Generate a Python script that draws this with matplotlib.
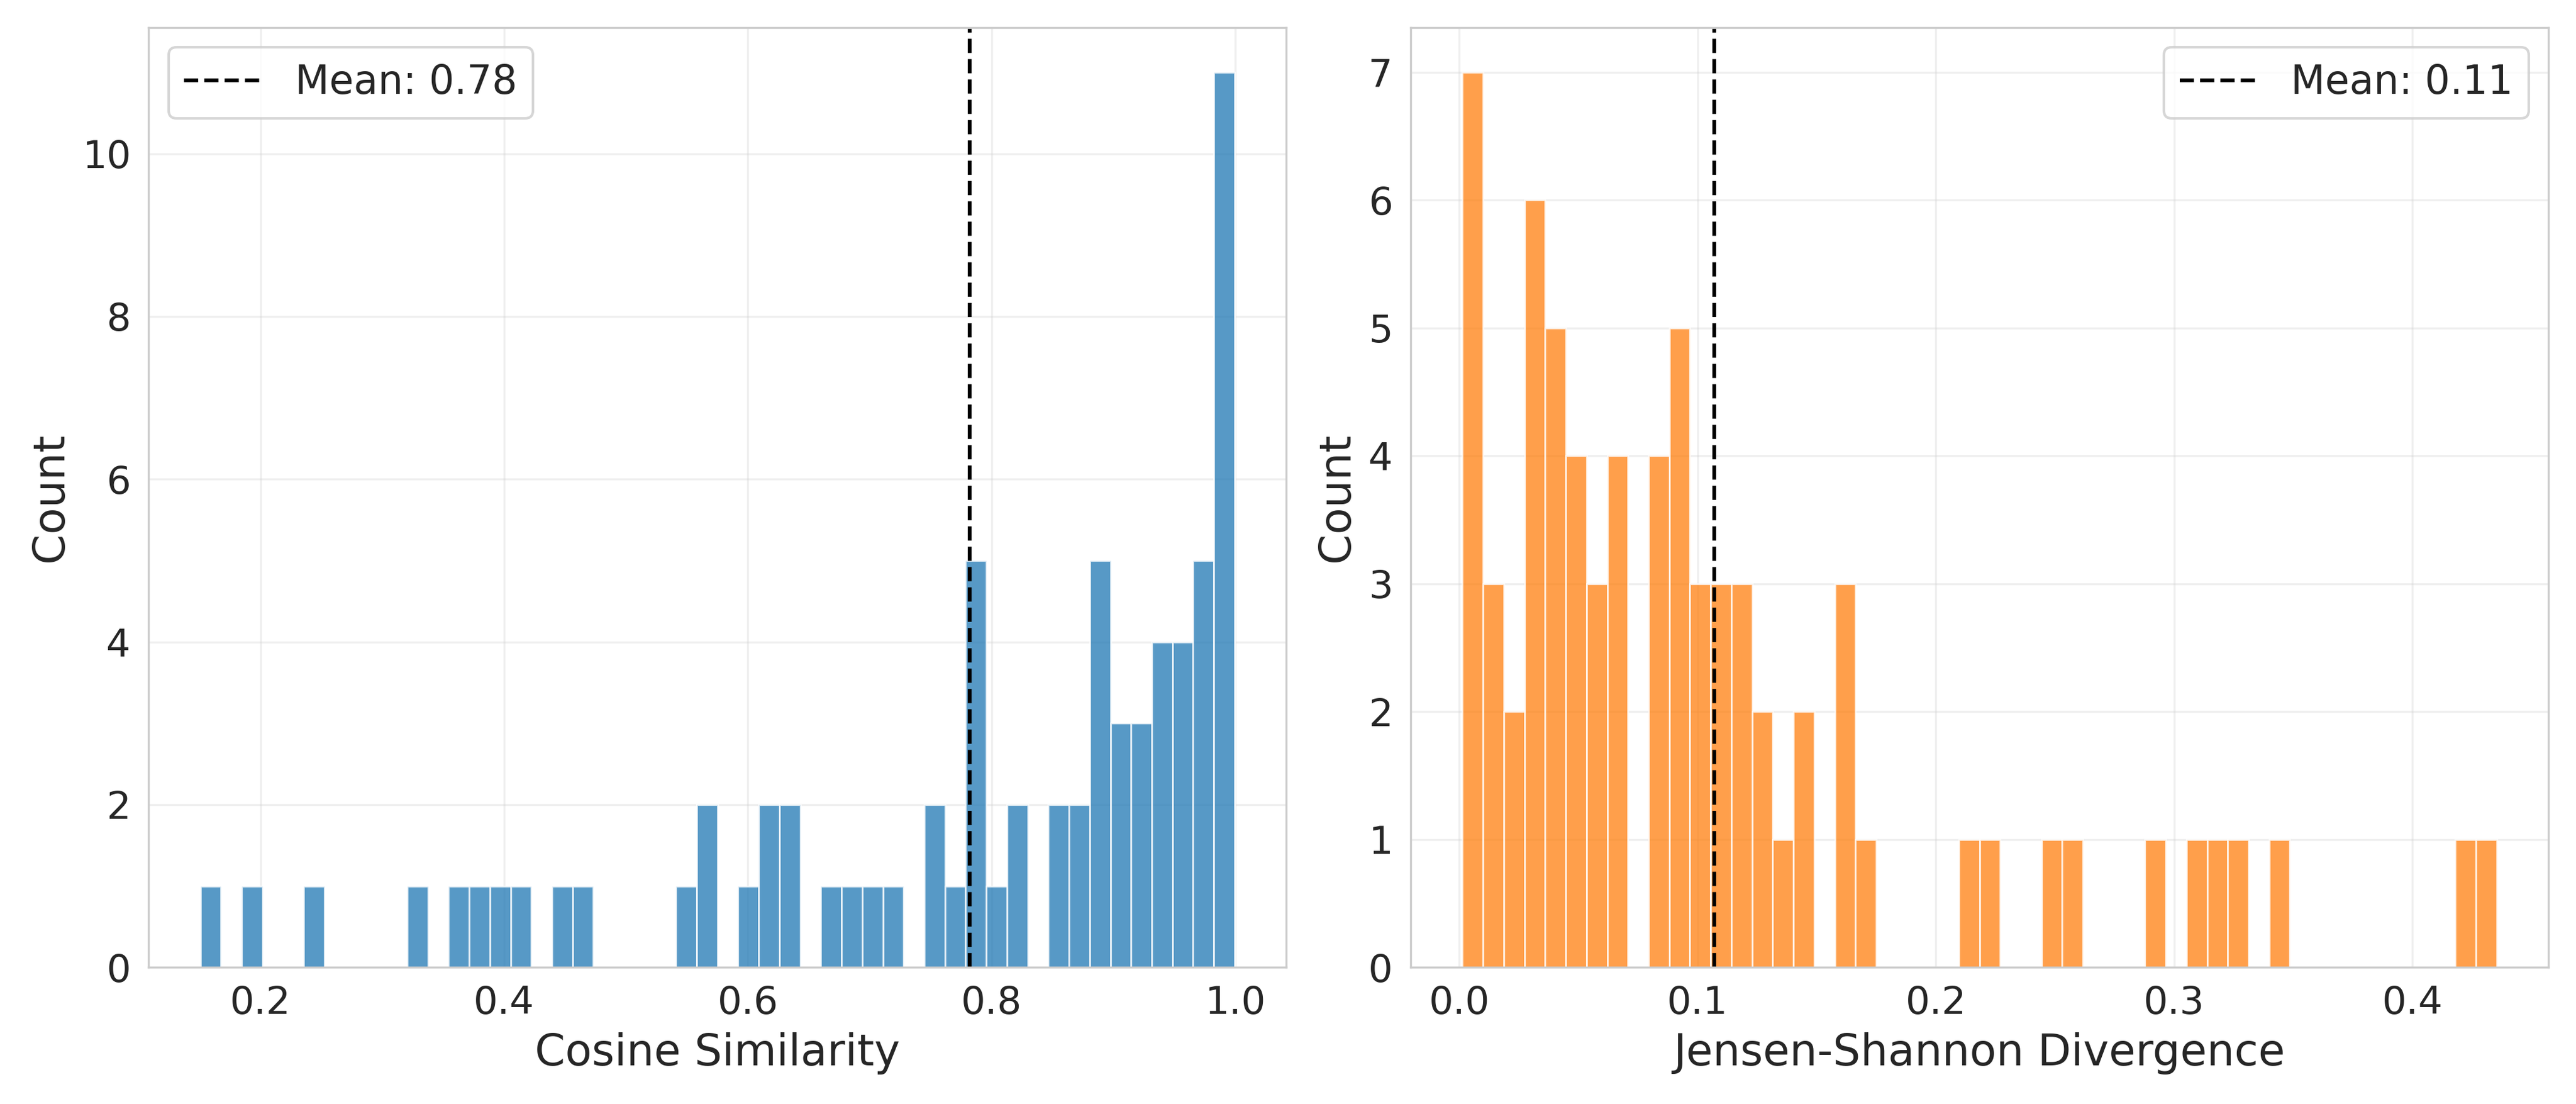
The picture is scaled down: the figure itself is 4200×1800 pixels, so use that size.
import matplotlib
matplotlib.use("Agg")
import matplotlib.pyplot as plt
import numpy as np
import seaborn as sns

# histogram counts (50 equal-width bins each)
COS_RANGE = (0.1507, 0.9995)
cos_counts = [1, 0, 1, 0, 0, 1, 0, 0, 0, 0,
              1, 0, 1, 1, 1, 1, 0, 1, 1, 0,
              0, 0, 0, 1, 2, 0, 1, 2, 2, 0,
              1, 1, 1, 1, 0, 2, 1, 5, 1, 2,
              0, 2, 2, 5, 3, 3, 4, 4, 5, 11]
cos_mean = 0.782

JS_RANGE = (0.0013, 0.4354)
js_counts = [7, 3, 2, 6, 5, 4, 3, 4, 0, 4,
             5, 3, 3, 3, 2, 1, 2, 0, 3, 1,
             0, 0, 0, 0, 1, 1, 0, 0, 1, 1,
             0, 0, 0, 1, 0, 1, 1, 1, 0, 1,
             0, 0, 0, 0, 0, 0, 0, 0, 1, 1]
js_mean = 0.107

sns.set_style("whitegrid")
plt.rcParams["font.family"] = ["DejaVu Sans"]


def draw_hist(ax, counts, value_range, mean, color, xlabel, legend_loc):
    edges = np.linspace(value_range[0], value_range[1], len(counts) + 1)
    centers = (edges[:-1] + edges[1:]) / 2
    ax.hist(centers, bins=edges, weights=counts, color=color, alpha=0.75,
            edgecolor="white", linewidth=0.7)
    ax.axvline(mean, color="black", linestyle="--", linewidth=1.5,
               label=f"Mean: {mean:.2f}")
    ax.set_xlabel(xlabel, fontsize=17)
    ax.set_ylabel("Count", fontsize=17)
    ax.tick_params(labelsize=15)
    ax.grid(alpha=0.3)
    ax.legend(loc=legend_loc, fontsize=15.5)


fig, axes = plt.subplots(1, 2, figsize=(14, 6))
draw_hist(axes[0], cos_counts, COS_RANGE, cos_mean, "tab:blue",
          "Cosine Similarity", "upper left")
draw_hist(axes[1], js_counts, JS_RANGE, js_mean, "tab:orange",
          "Jensen-Shannon Divergence", "upper right")
fig.tight_layout()
fig.savefig("out.png", dpi=300)
plt.close(fig)
